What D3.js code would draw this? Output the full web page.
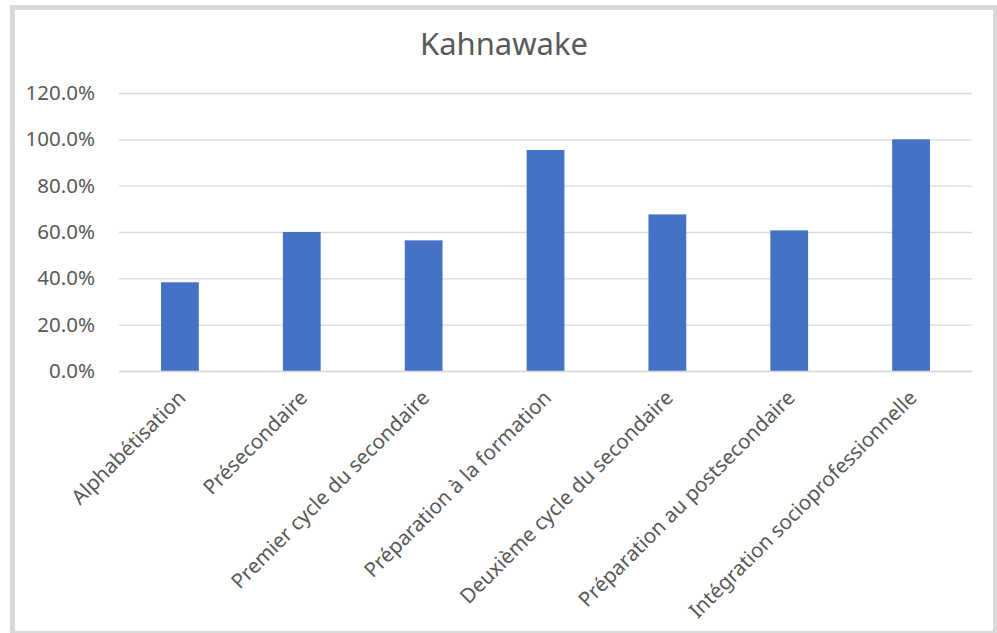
<!DOCTYPE html>
<html>
<head>
<meta charset="utf-8">
<script src="https://cdn.jsdelivr.net/npm/d3@7"></script>
<style>
  html, body { margin: 0; padding: 0; background: #ffffff; }
  svg { display: block; }
</style>
</head>
<body>
<svg id="chart" width="997" height="633"></svg>
<script>
const title = "Kahnawake";
const categories = [
  "Alphabétisation",
  "Présecondaire",
  "Premier cycle du secondaire",
  "Préparation à la formation",
  "Deuxième cycle du secondaire",
  "Préparation au postsecondaire",
  "Intégration socioprofessionnelle"
];
const values = [0.383, 0.600, 0.564, 0.954, 0.676, 0.607, 1.000];
const yTicks = [0, 0.2, 0.4, 0.6, 0.8, 1.0, 1.2];

const svg = d3.select("#chart");
const W = 997, H = 633;

// frame
svg.append("rect").attr("x", 10).attr("y", 5).attr("width", W - 10).attr("height", H - 5).attr("fill", "#d9d9d9");
svg.append("rect").attr("x", 15).attr("y", 10).attr("width", 978).attr("height", 621).attr("fill", "#ffffff");

const plot = { left: 119, right: 972, top: 93, bottom: 371 };

const x = d3.scaleBand()
  .domain(categories)
  .range([plot.left, plot.right])
  .paddingInner(0.69)
  .paddingOuter(0.345);

const y = d3.scaleLinear().domain([0, 1.2]).range([plot.bottom, plot.top]);

// gridlines
const grid = svg.append("g")
  .attr("transform", `translate(${plot.left},0)`)
  .call(d3.axisLeft(y).tickValues(yTicks).tickSize(-(plot.right - plot.left)).tickFormat(""));
grid.select(".domain").remove();
grid.selectAll(".tick line").attr("stroke", "#d9d9d9").attr("stroke-width", 1.3);

// y labels
const yAxis = svg.append("g")
  .attr("transform", `translate(${plot.left - 24},0)`)
  .call(d3.axisLeft(y).tickValues(yTicks).tickSize(0).tickPadding(0).tickFormat(d3.format(".1%")));
yAxis.select(".domain").remove();
yAxis.selectAll("text")
  .attr("fill", "#595959")
  .style("font-family", "'Noto Sans', sans-serif")
  .style("font-size", "20.5px");

// bars
svg.append("g").selectAll("rect")
  .data(values)
  .join("rect")
  .attr("x", (d, i) => x(categories[i]))
  .attr("width", x.bandwidth())
  .attr("y", d => y(d))
  .attr("height", d => y(0) - y(d))
  .attr("fill", "#4472c4");

// x axis
const xAxis = svg.append("g")
  .attr("transform", `translate(0,${plot.bottom})`)
  .call(d3.axisBottom(x).tickSize(0).tickPadding(0));
xAxis.select(".domain").attr("stroke", "#d9d9d9").attr("stroke-width", 1.3);
xAxis.selectAll("text")
  .attr("fill", "#595959")
  .style("font-family", "'Noto Sans', sans-serif")
  .style("font-size", "20.5px")
  .attr("text-anchor", "end")
  .attr("dy", null)
  .attr("y", 0)
  .attr("transform", "translate(7,28) rotate(-45)");

// title
svg.append("text")
  .attr("x", 504)
  .attr("y", 55)
  .attr("text-anchor", "middle")
  .attr("fill", "#595959")
  .style("font-family", "'Noto Sans', sans-serif")
  .style("font-size", "31px")
  .text(title);
</script>
</body>
</html>
